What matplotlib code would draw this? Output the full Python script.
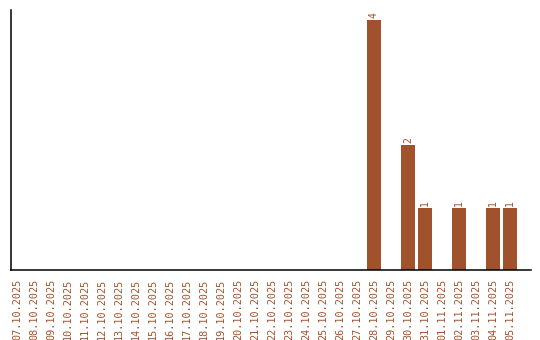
import matplotlib

matplotlib.use("Agg")
import matplotlib.pyplot as plt

# daily counts, 07.10.2025 .. 05.11.2025
dates = [
    "07.10.2025", "08.10.2025", "09.10.2025", "10.10.2025", "11.10.2025",
    "12.10.2025", "13.10.2025", "14.10.2025", "15.10.2025", "16.10.2025",
    "17.10.2025", "18.10.2025", "19.10.2025", "20.10.2025", "21.10.2025",
    "22.10.2025", "23.10.2025", "24.10.2025", "25.10.2025", "26.10.2025",
    "27.10.2025", "28.10.2025", "29.10.2025", "30.10.2025", "31.10.2025",
    "01.11.2025", "02.11.2025", "03.11.2025", "04.11.2025", "05.11.2025",
]
counts = [0] * 21 + [4, 0, 2, 1, 0, 1, 0, 1, 1]

color = "#A0522D"

fig = plt.figure(figsize=(5.4, 3.4), dpi=100)
ax = fig.add_axes([11 / 540, 70 / 340, 520 / 540, 260 / 340])

x = list(range(len(dates)))
ax.bar(x, counts, width=0.82, color=color)

# value labels above non-empty bars
for i, v in zip(x, counts):
    if v > 0:
        ax.text(i, v + 0.03, str(v), rotation=90, ha="center", va="bottom",
                color=color, fontsize=7, family="DejaVu Sans Mono")

ax.set_xlim(-0.35, 30.24)
ax.set_ylim(0, 4.16)
ax.set_xticks(x)
ax.set_xticklabels(dates, rotation=90, color=color, fontsize=7.3,
                   family="DejaVu Sans Mono")
ax.set_yticks([])
ax.tick_params(axis="x", length=0, pad=6)
ax.spines["top"].set_visible(False)
ax.spines["right"].set_visible(False)
for side in ("left", "bottom"):
    ax.spines[side].set_linewidth(1.1)
    ax.spines[side].set_color("black")

fig.savefig("out.png", dpi=100)
plt.close(fig)
